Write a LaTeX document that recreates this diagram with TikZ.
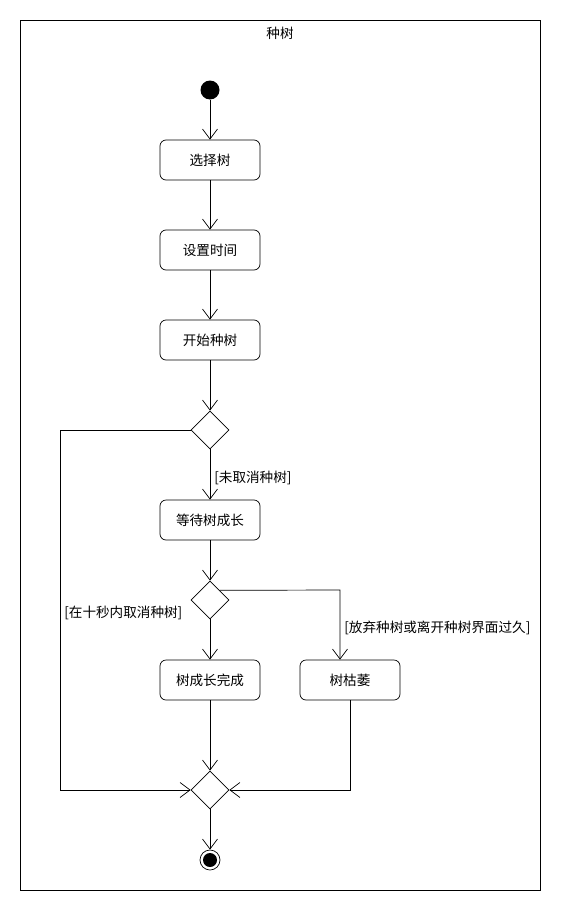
\documentclass[tikz,border=0pt]{standalone}
\usepackage{fontspec}
\setmainfont{Noto Sans CJK SC}
\usetikzlibrary{arrows.meta,shapes.geometric}

\begin{document}
\begin{tikzpicture}[x=1pt,y=-1pt,font=\fontsize{13.6}{15}\selectfont,line width=0.7pt,
  >={Straight Barb[length=10pt,width=15pt]},
  act node/.style={rectangle,draw,rounded corners=6pt,minimum width=100pt,minimum height=40pt},
  dec node/.style={diamond,draw,inner sep=0pt,minimum width=38pt,minimum height=38pt},
  guard/.style={anchor=west,inner sep=1pt}]
  \useasboundingbox (0,0) rectangle (570,910);
  \draw (20,20) rectangle (540,890);
  \node (title) at (280,33) {种树};

  \node[circle,fill,inner sep=0pt,minimum size=19pt] (start) at (210,90) {};
  \node[act node] (select) at (210,160) {选择树};
  \node[act node] (settime) at (210,250) {设置时间};
  \node[act node] (plant) at (210,340) {开始种树};
  \node[dec node] (d1) at (210,430) {};
  \node[act node] (wait) at (210,520) {等待树成长};
  \node[dec node] (d2) at (210,600) {};
  \node[act node] (grown) at (210,680) {树成长完成};
  \node[act node] (wither) at (350,680) {树枯萎};
  \node[dec node] (d3) at (210,790) {};
  \node[circle,draw,inner sep=0pt,minimum size=20pt] (end) at (210,860) {};
  \node[circle,fill,inner sep=0pt,minimum size=14pt] (endin) at (210,860) {};

  \coordinate (c1) at (60,430);
  \coordinate (c2) at (60,790);
  \coordinate (c3) at (340,590);
  \coordinate (c4) at (350,790);

  \path[->]
    (start) edge (select)
    (select) edge (settime)
    (settime) edge (plant)
    (plant) edge (d1)
    (d1) edge (wait)
    (wait) edge (d2)
    (d2) edge (grown)
    (grown) edge (d3)
    (d3) edge (end);

  \draw[->] (d1.west) -- (c1) -- (c2) -- (d3.west);
  \draw[->] (d2.north east) -- (c3) -- (wither.north -| c3);
  \draw[->] (wither.south) -- (c4) -- (d3.east);

  \node[guard] (g1) at (213,478) {[未取消种树]};
  \node[guard] (g2) at (63,613) {[在十秒内取消种树]};
  \node[guard] (g3) at (343,628) {[放弃种树或离开种树界面过久]};
\end{tikzpicture}
\end{document}
